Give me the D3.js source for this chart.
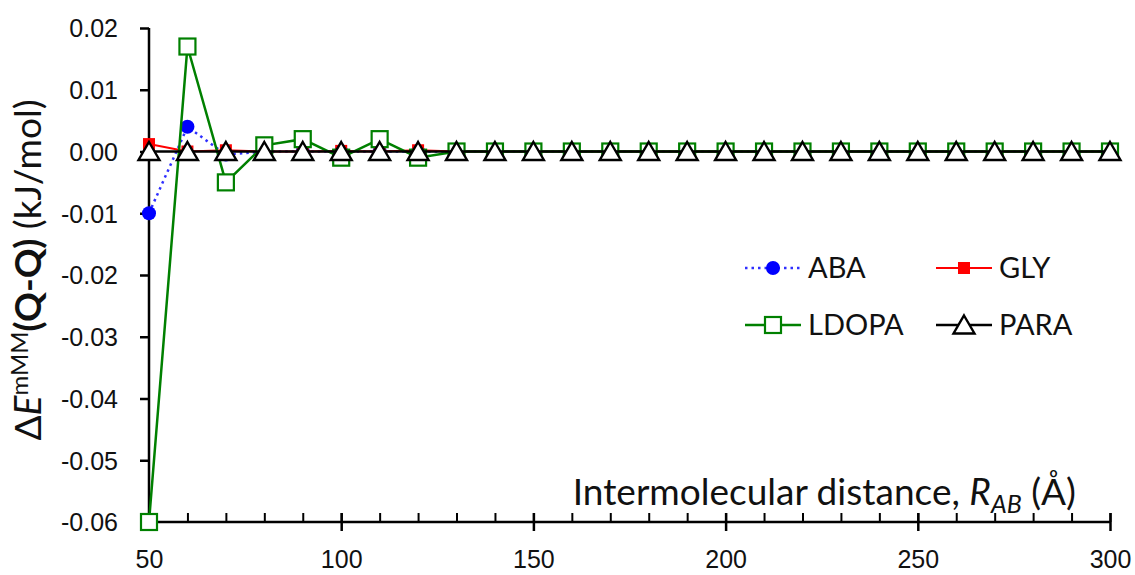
<!DOCTYPE html>
<html><head><meta charset="utf-8">
<script src="https://cdn.jsdelivr.net/npm/d3@7"></script>
<style>body{margin:0;background:#fff;} svg{display:block;font-family:Lato,"Open Sans",sans-serif;}</style>
</head><body><svg id="c" width="1135" height="575"></svg>
<script>
const xVals = [50,60,70,80,90,100,110,120,130,140,150,160,170,180,190,200,210,220,230,240,250,260,270,280,290,300];
const aba   = [-0.010,0.004,-0.0005,0,0,0,0,0,0,0,0,0,0,0,0,0,0,0,0,0,0,0,0,0,0,0];
const gly   = [0.0012,0,0.0002,0,0,0.0001,0,0.0002,0,0,0,0,0,0,0,0,0,0,0,0,0,0,0,0,0,0];
const ldopa = [-0.060,0.017,-0.005,0.001,0.002,-0.001,0.002,-0.001,0,0,0,0,0,0,0,0,0,0,0,0,0,0,0,0,0,0];
const para  = [0,0,0,0,0,0,0,0,0,0,0,0,0,0,0,0,0,0,0,0,0,0,0,0,0,0];
const yTicks = [0.02,0.01,0.00,-0.01,-0.02,-0.03,-0.04,-0.05,-0.06];
const xTicks = [50,100,150,200,250,300];

const svg = d3.select("#c");
const x = d3.scaleLinear().domain([50,300]).range([149,1110]);
const y = d3.scaleLinear().domain([-0.06,0.02]).range([522,28]);

// y axis
const yAx = svg.append("g").attr("transform","translate(149,0)")
  .call(d3.axisLeft(y).tickValues(yTicks).tickSize(9).tickPadding(22).tickFormat(d3.format(".2f")));
yAx.select(".domain").attr("stroke","#000").attr("stroke-width",2.5).attr("d","M0,28V522");
yAx.selectAll(".tick line").attr("stroke","#000").attr("stroke-width",2.5);
yAx.selectAll(".tick text").attr("font-size",25).attr("fill","#111").attr("dy","0.35em")
  .text(d=>d3.format(".2f")(d).replace("−","-"));

// x axis minor ticks (inside)
const xMinor = d3.range(50,301,10);
svg.append("g").attr("transform","translate(0,522)")
  .call(d3.axisTop(x).tickValues(xMinor).tickSize(9).tickFormat(""))
  .call(g=>{g.select(".domain").remove(); g.selectAll(".tick line").attr("stroke","#000").attr("stroke-width",2);});
// x axis major
const xAx = svg.append("g").attr("transform","translate(0,522)")
  .call(d3.axisBottom(x).tickValues(xTicks).tickSize(9).tickPadding(19));
xAx.select(".domain").attr("stroke","#000").attr("stroke-width",2.5).attr("d","M149,0H1110");
xAx.selectAll(".tick line").attr("stroke","#000").attr("stroke-width",2.5).attr("y1",-9);
xAx.selectAll(".tick text").attr("font-size",25).attr("fill","#111");

const line = vals => d3.line().x((d,i)=>x(xVals[i])).y(d=>y(d))(vals);

// ABA
svg.append("path").attr("d",line(aba)).attr("fill","none").attr("stroke","#2f2fff").attr("stroke-width",2.5).attr("stroke-dasharray","2.5,4");
svg.append("g").selectAll("circle").data(aba).join("circle")
  .attr("cx",(d,i)=>x(xVals[i])).attr("cy",d=>y(d)).attr("r",7).attr("fill","#0000ff");
// GLY
svg.append("path").attr("d",line(gly)).attr("fill","none").attr("stroke","#ff0000").attr("stroke-width",2);
svg.append("g").selectAll("rect").data(gly).join("rect")
  .attr("x",(d,i)=>x(xVals[i])-6).attr("y",d=>y(d)-6).attr("width",12).attr("height",12).attr("fill","#ff0000");
// LDOPA
svg.append("path").attr("d",line(ldopa)).attr("fill","none").attr("stroke","#008000").attr("stroke-width",2.5);
svg.append("g").selectAll("rect").data(ldopa).join("rect")
  .attr("x",(d,i)=>x(xVals[i])-8).attr("y",d=>y(d)-8).attr("width",16).attr("height",16)
  .attr("fill","#fff").attr("stroke","#008000").attr("stroke-width",2.2);
// PARA
svg.append("path").attr("d",line(para)).attr("fill","none").attr("stroke","#000").attr("stroke-width",2.5);
const tri = (cx,cy,w,h)=>`M${cx},${cy-h/2-1}L${cx+w/2},${cy+h/2}L${cx-w/2},${cy+h/2}Z`;
svg.append("g").selectAll("path").data(para).join("path")
  .attr("d",(d,i)=>tri(x(xVals[i]),y(d),21,17)).attr("fill","#fff").attr("stroke","#000").attr("stroke-width",2.4).attr("stroke-linejoin","miter");

// legend
const lg = svg.append("g");
const items = [
  {name:"ABA", lx:745, ly:268, type:"aba"},
  {name:"GLY", lx:936, ly:268, type:"gly"},
  {name:"LDOPA", lx:745, ly:325, type:"ldopa"},
  {name:"PARA", lx:936, ly:325, type:"para"}];
items.forEach(it=>{
  const g = lg.append("g");
  const w = 56, cx = it.lx + w/2;
  if(it.type==="aba"){
    g.append("line").attr("x1",it.lx).attr("x2",it.lx+w).attr("y1",it.ly).attr("y2",it.ly).attr("stroke","#2f2fff").attr("stroke-width",2.5).attr("stroke-dasharray","2.5,4");
    g.append("circle").attr("cx",cx).attr("cy",it.ly).attr("r",7).attr("fill","#0000ff");
  } else if(it.type==="gly"){
    g.append("line").attr("x1",it.lx).attr("x2",it.lx+w).attr("y1",it.ly).attr("y2",it.ly).attr("stroke","#ff0000").attr("stroke-width",2);
    g.append("rect").attr("x",cx-6).attr("y",it.ly-6).attr("width",12).attr("height",12).attr("fill","#ff0000");
  } else if(it.type==="ldopa"){
    g.append("line").attr("x1",it.lx).attr("x2",it.lx+w).attr("y1",it.ly).attr("y2",it.ly).attr("stroke","#008000").attr("stroke-width",2.5);
    g.append("rect").attr("x",cx-8).attr("y",it.ly-8).attr("width",16).attr("height",16).attr("fill","#fff").attr("stroke","#008000").attr("stroke-width",2.2);
  } else {
    g.append("line").attr("x1",it.lx).attr("x2",it.lx+w).attr("y1",it.ly).attr("y2",it.ly).attr("stroke","#000").attr("stroke-width",2.5);
    g.append("path").attr("d",tri(cx,it.ly,21,17)).attr("fill","#fff").attr("stroke","#000").attr("stroke-width",2.4);
  }
  g.append("text").attr("x",it.lx+w+7).attr("y",it.ly).attr("dy","0.36em").attr("font-size",29).attr("fill","#111").text(it.name);
});

// x title
const xt = svg.append("text").attr("x",1076).attr("y",505).attr("text-anchor","end").attr("font-size",37).attr("fill","#111");
xt.append("tspan").text("Intermolecular distance, ");
xt.append("tspan").attr("font-style","italic").text("R");
xt.append("tspan").attr("font-style","italic").attr("font-size",25).attr("dy",8).text("AB");
xt.append("tspan").attr("dy",-8).text(" (Å)");

// y title
const yt = svg.append("text").attr("transform","translate(41,270) rotate(-90)").attr("text-anchor","middle").attr("font-size",37).attr("fill","#111");
yt.append("tspan").text("Δ");
yt.append("tspan").attr("font-style","italic").text("E");
yt.append("tspan").attr("font-size",24).attr("dy",-13).text("mMM");
yt.append("tspan").attr("dy",13).attr("font-weight","bold").text("(Q-Q)");
yt.append("tspan").text(" (kJ/mol)");
</script></body></html>
